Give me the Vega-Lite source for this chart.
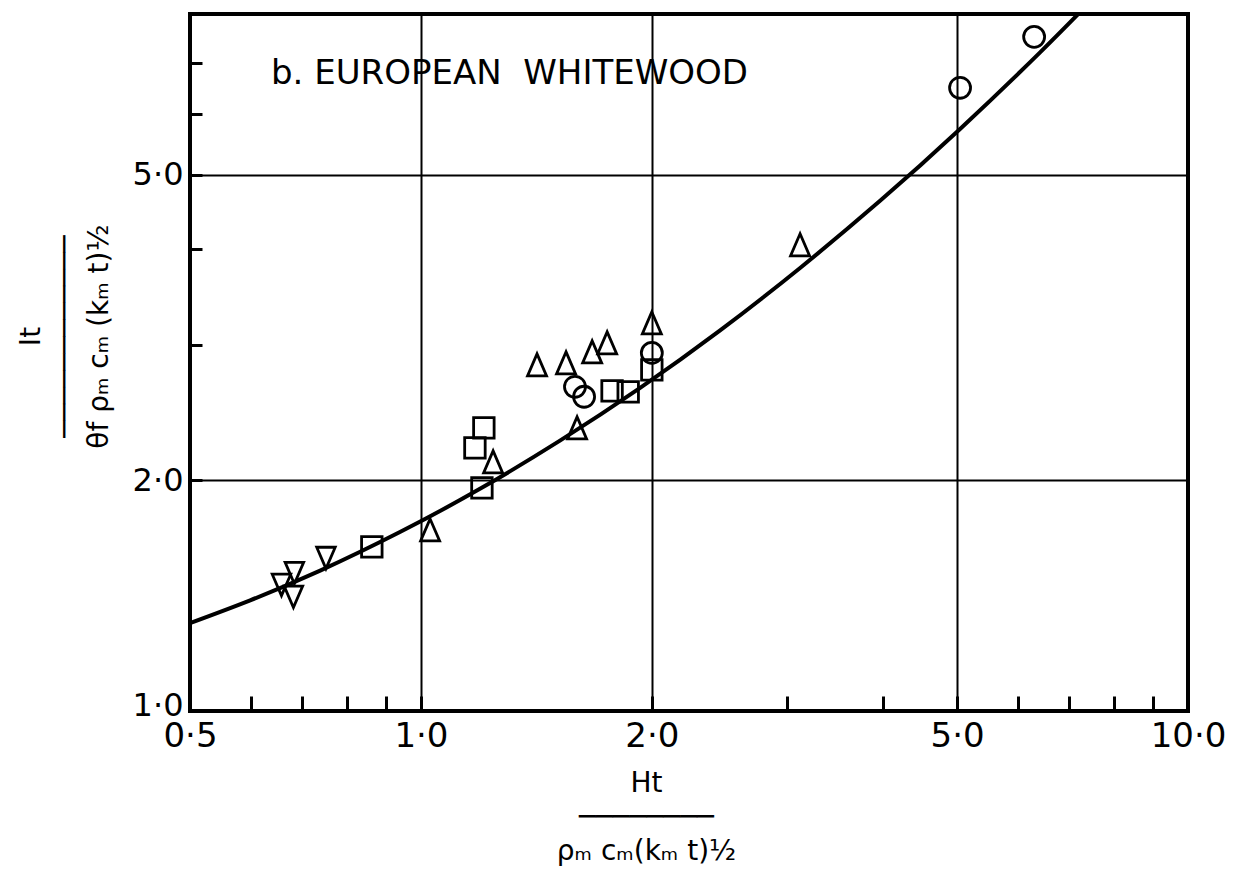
{
  "$schema": "https://vega.github.io/schema/vega-lite/v6.json",
  "width": 998,
  "height": 697,
  "autosize": {"type": "none"},
  "padding": {"left": 190, "top": 14, "right": 52, "bottom": 160},
  "background": "white",
  "config": {
    "view": {"stroke": "black", "strokeWidth": 4},
    "font": "DejaVu Sans"
  },
  "title": {
    "text": "b. EUROPEAN \u00a0WHITEWOOD",
    "anchor": "start",
    "frame": "group",
    "dx": 81,
    "offset": -104,
    "baseline": "alphabetic",
    "font": "DejaVu Sans",
    "fontSize": 34,
    "fontWeight": "normal",
    "color": "black"
  },
  "datasets": {
    "curve": [
      {"x": 0.5, "y": 1.302},
      {"x": 0.599, "y": 1.394},
      {"x": 0.739, "y": 1.524},
      {"x": 0.939, "y": 1.711},
      {"x": 1.194, "y": 1.948},
      {"x": 1.518, "y": 2.251},
      {"x": 1.931, "y": 2.637},
      {"x": 2.455, "y": 3.134},
      {"x": 3.121, "y": 3.780},
      {"x": 3.968, "y": 4.623},
      {"x": 5.045, "y": 5.737},
      {"x": 6.415, "y": 7.220},
      {"x": 7.564, "y": 8.529}
    ],
    "obs": [
      {"x": 0.658, "y": 1.460, "set": "D"},
      {"x": 0.684, "y": 1.513, "set": "D"},
      {"x": 0.682, "y": 1.409, "set": "D"},
      {"x": 0.752, "y": 1.583, "set": "D"},
      {"x": 0.863, "y": 1.637, "set": "S"},
      {"x": 1.201, "y": 1.953, "set": "S"},
      {"x": 1.208, "y": 2.339, "set": "S"},
      {"x": 1.176, "y": 2.203, "set": "S"},
      {"x": 1.775, "y": 2.614, "set": "S"},
      {"x": 1.863, "y": 2.606, "set": "S"},
      {"x": 2.0, "y": 2.784, "set": "S"},
      {"x": 1.028, "y": 1.722, "set": "T"},
      {"x": 1.242, "y": 2.112, "set": "T"},
      {"x": 1.417, "y": 2.826, "set": "T"},
      {"x": 1.546, "y": 2.843, "set": "T"},
      {"x": 1.672, "y": 2.938, "set": "T"},
      {"x": 1.749, "y": 3.019, "set": "T"},
      {"x": 1.598, "y": 2.339, "set": "T"},
      {"x": 2.0, "y": 3.205, "set": "T"},
      {"x": 3.121, "y": 4.052, "set": "T"},
      {"x": 1.588, "y": 2.646, "set": "C"},
      {"x": 1.632, "y": 2.568, "set": "C"},
      {"x": 2.0, "y": 2.929, "set": "C"},
      {"x": 5.045, "y": 6.491, "set": "C"},
      {"x": 6.301, "y": 7.563, "set": "C"}
    ]
  },
  "encoding": {
    "x": {
      "field": "x",
      "type": "quantitative",
      "scale": {"type": "log", "domain": [0.5, 10], "nice": false},
      "axis": {
        "values": [0.5, 0.6, 0.7, 0.8, 0.9, 1, 2, 3, 4, 5, 6, 7, 8, 9, 10],
        "format": ".1f",
        "labelExpr": "indexof([0.5, 1, 2, 5, 10], datum.value) >= 0 ? replace(datum.label, '.', '·') : ''",
        "labelFlush": false,
        "labelOverlap": false,
        "labelFont": "DejaVu Sans",
        "labelFontSize": 34,
        "labelColor": "black",
        "labelPadding": 23,
        "domain": false,
        "ticks": true,
        "tickSize": -15,
        "tickWidth": 3,
        "tickColor": "black",
        "grid": true,
        "gridColor": "black",
        "gridWidth": 2,
        "gridOpacity": {"condition": {"test": "indexof([1, 2, 5], datum.value) >= 0", "value": 1}, "value": 0},
        "title": ["Ht", "────────", "ρₘ cₘ(kₘ t)½"],
        "titleFont": "DejaVu Sans",
        "titleFontSize": 28,
        "titleFontWeight": "normal",
        "titleColor": "black",
        "titleLineHeight": 34,
        "titleX": 456,
        "titleY": 58,
        "titleBaseline": "top"
      }
    },
    "y": {
      "field": "y",
      "type": "quantitative",
      "scale": {"type": "log", "domain": [1, 8.1], "nice": false},
      "axis": {
        "values": [1, 2, 3, 4, 5, 6, 7],
        "format": ".1f",
        "labelExpr": "indexof([1, 2, 5], datum.value) >= 0 ? replace(datum.label, '.', '·') : ''",
        "labelFlush": false,
        "labelOverlap": false,
        "labelFont": "DejaVu Sans",
        "labelFontSize": 32,
        "labelColor": "black",
        "labelPadding": 19,
        "labelOffset": {"condition": {"test": "datum.value === 1", "value": -6}, "value": 0},
        "domain": false,
        "ticks": true,
        "tickSize": -12,
        "tickWidth": 3,
        "tickColor": "black",
        "grid": true,
        "gridColor": "black",
        "gridWidth": 2,
        "gridOpacity": {"condition": {"test": "indexof([2, 5], datum.value) >= 0", "value": 1}, "value": 0},
        "title": ["It", "────────────", "θf ρₘ cₘ (kₘ t)½"],
        "titleFont": "DejaVu Sans",
        "titleFontSize": 28,
        "titleFontWeight": "normal",
        "titleColor": "black",
        "titleLineHeight": 34,
        "titleAngle": 270,
        "titleAlign": "center",
        "titleBaseline": "bottom",
        "titleX": -145,
        "titleY": 322
      }
    }
  },
  "layer": [
    {
      "data": {"name": "curve"},
      "mark": {"type": "line", "color": "black", "strokeWidth": 4, "interpolate": "natural", "clip": true}
    },
    {
      "data": {"name": "obs"},
      "mark": {"type": "point", "filled": false, "color": "black", "strokeWidth": 2.8, "opacity": 1},
      "encoding": {
        "shape": {
          "field": "set",
          "type": "nominal",
          "legend": null,
          "scale": {
            "domain": ["C", "S", "T", "D"],
            "range": ["circle", "square", "M0,-1.1L-0.95,1.1L0.95,1.1Z", "M0,1.1L-0.95,-1.1L0.95,-1.1Z"]
          }
        },
        "size": {
          "field": "set",
          "type": "nominal",
          "legend": null,
          "scale": {"domain": ["C", "S", "T", "D"], "range": [440, 380, 400, 400]}
        }
      }
    }
  ]
}
